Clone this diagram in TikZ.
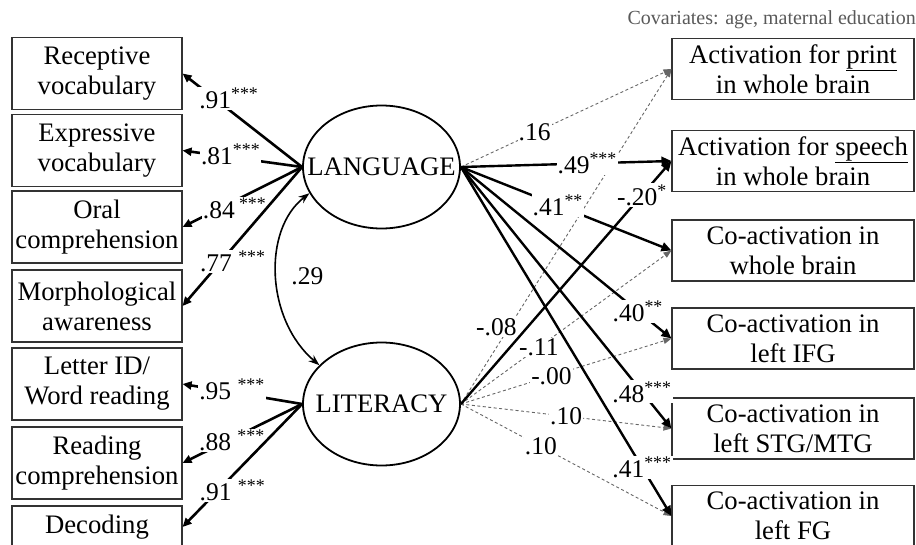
\documentclass[tikz,border=0pt]{standalone}
\usepackage{fontspec}
\setmainfont{Liberation Serif}
\usetikzlibrary{shapes.geometric,arrows.meta}
\newcommand{\st}[1]{\textsuperscript{#1}}
\begin{document}
\begin{tikzpicture}[x=1pt,y=-1pt,
  box/.style={draw=black!80, line width=1.1pt, align=center, font=\fontsize{26.7}{30}\selectfont, inner sep=0pt},
  lbox/.style={box, minimum width=170pt, minimum height=72pt},
  rbox/.style={box, minimum width=242pt, minimum height=61pt},
  lat/.style={draw, ellipse, line width=1.8pt, minimum width=157pt, minimum height=123pt, inner sep=0pt},
  lattxt/.style={font=\fontsize{26.7}{30}\selectfont, inner sep=0pt},
  load/.style={line width=2.6pt, -{Triangle[length=9pt,width=8pt]}},
  spath/.style={line width=2.4pt, -{Triangle[length=10pt,width=9pt]}},
  dpath/.style={draw=black!60, line width=0.9pt, dash pattern=on 3pt off 2.5pt, -{Triangle[length=8pt,width=6pt]}},
  corr/.style={line width=1.6pt, {Stealth[length=11pt,width=8pt]}-{Stealth[length=11pt,width=8pt]}},
  lab/.style={fill=white, inner sep=1pt, font=\fontsize{25.5}{27}\selectfont},
]
\useasboundingbox (0,0) rectangle (916,544);

% left indicator boxes
\node[lbox] (rv) at (97,73.5) {Receptive\\vocabulary};
\node[lbox] (ev) at (97,150.5) {Expressive\\vocabulary};
\node[lbox] (oc) at (97,227) {Oral\\comprehension};
\node[lbox] (ma) at (97,306) {Morphological\\awareness};
\node[lbox] (wr) at (97,384) {Letter ID/\\Word reading};
\node[lbox] (rc) at (97,463) {Reading\\comprehension};
\node[lbox, minimum height=42pt] (dc) at (97,527) {Decoding};

% right outcome boxes
\node[rbox] (pa) at (793,69) {Activation for \underline{print}\\in whole brain};
\node[rbox] (sp) at (793,161) {Activation for \underline{speech}\\in whole brain};
\node[rbox] (cw) at (793,250.5) {Co-activation in\\whole brain};
\node[rbox] (ifg) at (793,338.5) {Co-activation in\\left IFG};
\node[rbox] (stg) at (793,428.5) {Co-activation in\\left STG/MTG};
\node[rbox] (fg) at (793,516) {Co-activation in\\left FG};

% latent variables
\node[lat] (lang) at (381.5,167) {};
\node[lattxt] (langt) at (lang) {LANGUAGE};
\node[lat] (lit) at (381.5,404) {};
\node[lattxt] (litt) at (lit) {LITERACY};

\node[anchor=east, text=black!65, font=\fontsize{20}{22}\selectfont, inner sep=0pt] (cov) at (916,20) {Covariates: age, maternal education};

% loadings
\draw[load] (lang.west) -- node[lab, pos=0.73, xshift=14pt] {.91\st{***}} (rv.east);
\draw[load] (lang.west) -- node[lab, pos=0.74, xshift=17pt] {.81\st{***}} (ev.east);
\draw[load] (lang.west) -- node[lab, pos=0.69, xshift=15pt] {.84\,\st{***}} (oc.east);
\draw[load] (lang.west) -- node[lab, pos=0.68, xshift=12pt] {.77 \st{***}} (ma.east);
\draw[load] (lit.west) -- node[lab, pos=0.72, xshift=16pt] {.95 \st{***}} (wr.east);
\draw[load] (lit.west) -- node[lab, pos=0.62, xshift=4pt] {.88 \st{***}} (rc.east);
\draw[load] (lit.west) -- node[lab, pos=0.70, xshift=14pt] {.91 \st{***}} (dc.east);

% correlation
\draw[corr] (lang.200) .. controls (262,230) and (266,320) .. node[pos=0.5, anchor=west, xshift=13pt, font=\fontsize{25.5}{27}\selectfont, inner sep=1pt] {.29} (lit.148);

% non-significant paths
\draw[dpath] (lang.east) -- node[lab,pos=0.35] {.16} (pa.west);
\draw[dpath] (lit.east) -- node[lab,pos=0.23,xshift=-13pt] {-.08} (pa.west);
\draw[dpath] (lit.east) -- node[lab,pos=0.37] {-.11} (cw.west);
\draw[dpath] (lit.east) -- node[lab,pos=0.43] {-.00} (ifg.west);
\draw[dpath] (lit.east) -- node[lab,pos=0.5] {.10} (stg.west);
\draw[dpath] (lit.east) -- node[lab,pos=0.38] {.10} (fg.west);

% significant paths
\draw[spath] (lang.east) -- node[lab,pos=0.6] {.49\st{***}} (sp.west);
\draw[spath] (lang.east) -- node[lab,pos=0.46] {.41\st{**}} (cw.west);
\draw[spath] (lang.east) -- node[lab,pos=0.84] {.40\st{**}} (ifg.west);
\draw[spath] (lang.east) -- node[lab,pos=0.86] {.48\st{***}} (stg.west);
\draw[spath] (lang.east) -- node[lab,pos=0.86] {.41\st{***}} (fg.west);
\draw[spath] (lit.east) -- node[lab,pos=0.86] {-.20\st{*}} (sp.west);
\end{tikzpicture}
\end{document}
